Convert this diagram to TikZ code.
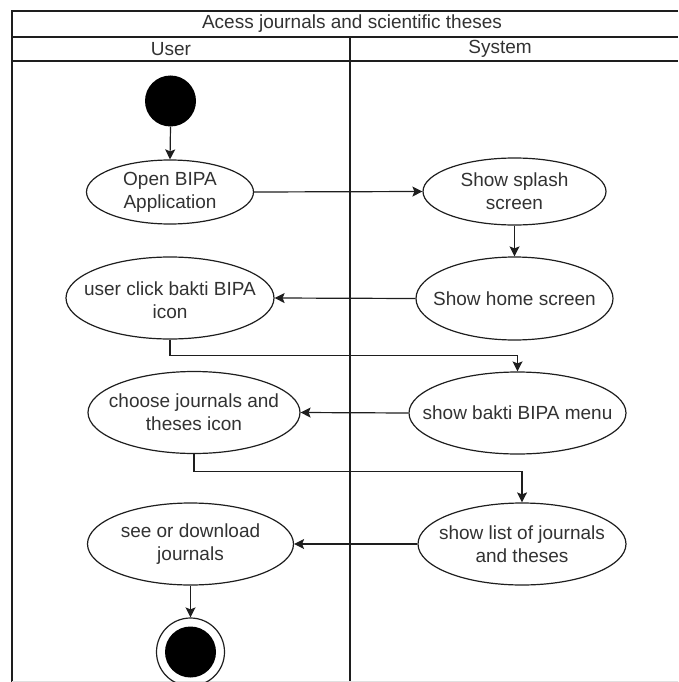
\documentclass[tikz,border=0pt]{standalone}
\usepackage{fontspec}
\setmainfont{Liberation Sans}
\usetikzlibrary{shapes.geometric,arrows.meta}
\definecolor{ink}{RGB}{30,30,30}
\definecolor{txt}{RGB}{50,50,50}
\tikzset{
  lane/.style={draw=ink, line width=1.3pt},
  act/.style={draw=ink, line width=1.2pt, ellipse, inner sep=0pt, fill=white},
  lbl/.style={align=center, text=txt, font=\fontsize{19}{23}\selectfont, inner sep=0pt},
  arr/.style={draw=ink, line width=1.2pt, -{Stealth[length=10pt,width=10pt,inset=2pt]}},
  hdr/.style={text=txt, font=\fontsize{19}{23}\selectfont, inner sep=0pt}
}
\begin{document}
\begin{tikzpicture}[x=1pt,y=-1pt]
\useasboundingbox (0,0) rectangle (678,682);
\clip (0,0) rectangle (678,682);
% swimlane frame
\coordinate (tl) at (12,11);
\coordinate (tr) at (678,11);
\coordinate (bl) at (12,682);
\coordinate (t1l) at (12,37);
\coordinate (t1r) at (678,37);
\coordinate (t2l) at (12,61);
\coordinate (t2r) at (678,61);
\coordinate (dt) at (350,37);
\coordinate (db) at (350,682);
\draw[lane] (tr) -- (tl) -- (bl);
\draw[lane] (t1l) -- (t1r);
\draw[lane] (t2l) -- (t2r);
\draw[lane] (dt) -- (db);
\draw[black!12, line width=1pt] (12,681) -- (678,681);
\node[hdr] (title) at (352,24) {Acess journals and scientific theses};
\node[hdr] (user) at (171,49) {User};
\node[hdr] (system) at (500,49) {System};
% start / end
\node[circle, fill=black, minimum size=51pt, inner sep=0pt] (start) at (170.5,101) {};
\node[circle, draw=ink, line width=1.2pt, minimum size=68pt, inner sep=0pt] (endo) at (190.5,652) {};
\node[circle, fill=black, minimum size=51pt, inner sep=0pt] (endi) at (190.5,652) {};
% activities
\node[act, minimum width=167pt, minimum height=64pt] (open) at (170,192) {};
\node[lbl] (openT) at (open.center) {Open BIPA\\Application};
\node[act, minimum width=183pt, minimum height=67pt] (splash) at (514.5,191.5) {};
\node[lbl] (splashT) at (splash.center) {Show splash\\screen};
\node[act, minimum width=197pt, minimum height=83pt] (home) at (514.5,298.5) {};
\node[lbl] (homeT) at (home.center) {Show home screen};
\node[act, minimum width=208pt, minimum height=82pt] (click) at (170,298) {};
\node[lbl] (clickT) at (170,300) {user click bakti BIPA\\icon};
\node[act, minimum width=217pt, minimum height=82pt] (menu) at (517.5,413) {};
\node[lbl] (menuT) at (menu.center) {show bakti BIPA menu};
\node[act, minimum width=212pt, minimum height=82pt] (choose) at (194,412.5) {};
\node[lbl] (chooseT) at (choose.center) {choose journals and\\theses icon};
\node[act, minimum width=208pt, minimum height=82pt] (list) at (522,544) {};
\node[lbl] (listT) at (list.center) {show list of journals\\and theses};
\node[act, minimum width=206pt, minimum height=82pt] (see) at (190.5,544) {};
\node[lbl] (seeT) at (see.center) {see or download\\journals};
% flows
\draw[arr] (start.south) -- (open.north);
\draw[arr] (open.east) -- (splash.west);
\draw[arr] (splash.south) -- (home.north);
\draw[arr] (home.west) -- (click.east);
\draw[arr] (click.south) -- ++(0,16) -| (menu.north);
\draw[arr] (menu.west) -- (choose.east);
\draw[arr] (choose.south) -- ++(0,17) -| (list.north);
\draw[arr] (list.west) -- (see.east);
\draw[arr] (see.south) -- (endo.north);
\end{tikzpicture}
\end{document}
